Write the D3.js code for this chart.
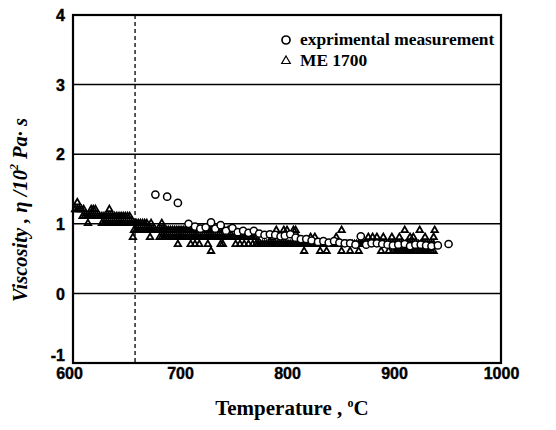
<!DOCTYPE html>
<html>
<head>
<meta charset="utf-8">
<script src="https://cdn.jsdelivr.net/npm/d3@7"></script>
<style>
  html, body { margin: 0; padding: 0; background: #fff; }
  svg { display: block; }
</style>
</head>
<body>
<svg id="chart" width="556" height="430"></svg>
<script>
// ---------------- DATA ----------------
const xTicks = [600, 700, 800, 900, 1000];
const yTicks = [-1, 0, 1, 2, 3, 4];
const gridValues = [0, 1, 2, 3];
const dashedTemp = 658;
const legendLabels = ["exprimental measurement", "ME 1700"];

// experimental measurement: temperatures (°C) and viscosity (10^2 Pa·s)
const expTemp = [677, 688, 698, 708, 714, 719, 724, 729, 733, 738, 743, 749, 754, 759, 764, 769, 774, 779, 784, 789, 794, 798, 803, 808, 813, 818, 823, 829, 834, 839, 844, 849, 854, 859, 864, 869, 874, 879, 884, 889, 894, 899, 904, 910, 915, 920, 925, 930, 935, 941, 951];
const expVisc = [1.42, 1.39, 1.30, 1.00, 0.96, 0.93, 0.95, 1.02, 0.93, 0.98, 0.90, 0.94, 0.88, 0.90, 0.87, 0.90, 0.86, 0.84, 0.85, 0.84, 0.82, 0.83, 0.85, 0.80, 0.78, 0.78, 0.76, 0.74, 0.75, 0.73, 0.75, 0.73, 0.72, 0.72, 0.70, 0.82, 0.70, 0.72, 0.72, 0.71, 0.70, 0.69, 0.70, 0.71, 0.68, 0.70, 0.70, 0.69, 0.68, 0.69, 0.71];

// ME 1700 simulation: temperatures (°C) at each viscosity level (10^2 Pa·s)
const meT13 = [604];
const meT12 = [602, 604, 606, 608, 610, 617, 619, 621, 634];
const meT11 = [609, 611, 613, 615, 617, 619, 621, 623, 625, 627, 629, 631, 633, 635, 637, 639, 641, 643, 645, 647, 649, 651, 653];
const meT10 = [614, 627, 629, 631, 633, 635, 637, 639, 641, 643, 645, 647, 649, 651, 653, 655, 657, 659, 661, 663, 665, 667, 669, 673, 683];
const meT09 = [657, 659, 661, 663, 665, 667, 669, 671, 673, 675, 677, 679, 681, 683, 685, 687, 689, 691, 693, 695, 697, 699, 701, 703, 705, 707, 709, 711, 713, 715, 717, 719, 721, 723, 725, 727, 729, 731, 733, 735, 737, 741, 745, 790, 797, 800, 806, 808, 851, 910, 924, 938];
const meT08 = [656, 672, 681, 683, 685, 687, 689, 691, 693, 695, 697, 699, 701, 703, 705, 707, 709, 711, 713, 715, 717, 719, 721, 723, 725, 727, 729, 731, 733, 735, 737, 739, 741, 743, 745, 747, 749, 751, 753, 755, 757, 759, 761, 763, 765, 767, 769, 771, 786, 796, 810, 822, 826, 846, 876, 880, 884, 890, 898, 905, 915, 918, 929, 937];
const meT07 = [698, 710, 714, 718, 726, 738, 740, 752, 756, 760, 764, 768, 771, 773, 775, 777, 779, 781, 783, 785, 787, 789, 791, 793, 795, 797, 799, 801, 803, 805, 807, 809, 811, 813, 815, 817, 819, 821, 823, 825, 827, 829, 831, 833, 835, 837, 839, 841, 843, 845, 847, 849, 851, 853, 855, 857, 859, 861, 863, 865, 867, 869, 871, 873, 875, 877, 879, 881, 883, 885, 887, 889, 891, 893, 895, 897, 899, 901, 903, 905, 907, 909, 911, 913, 915, 917, 919, 921, 923, 925, 927, 929, 931, 933, 935, 937];
const meT06 = [729, 816, 831, 837, 851, 859, 867, 888, 895, 899, 901, 903, 905, 907, 909, 911, 913, 915, 917, 919, 921, 923, 925, 927, 929, 931, 933, 935, 937];
const meLevels = [1.3, 1.2, 1.1, 1.0, 0.9, 0.8, 0.7, 0.6];
const meTemps = [meT13, meT12, meT11, meT10, meT09, meT08, meT07, meT06];

// ---------------- CHART ----------------
const W = 556, H = 430;
const margin = {top: 15, right: 55, bottom: 67, left: 73};
const svg = d3.select("#chart");

const x = d3.scaleLinear().domain([600, 1000]).range([margin.left, W - margin.right]);
const y = d3.scaleLinear().domain([-1, 4]).range([H - margin.bottom, margin.top]);

// gridlines
svg.append("g").selectAll("line").data(gridValues).join("line")
  .attr("x1", x(600)).attr("x2", x(1000))
  .attr("y1", d => y(d)).attr("y2", d => y(d))
  .attr("stroke", "#000").attr("stroke-width", 1.5);

// dashed vertical line
svg.append("line")
  .attr("x1", x(dashedTemp)).attr("x2", x(dashedTemp))
  .attr("y1", y(4)).attr("y2", y(-1))
  .attr("stroke", "#000").attr("stroke-width", 1.3)
  .attr("stroke-dasharray", "4,3");

// axes
const xAxis = d3.axisBottom(x).tickValues(xTicks).tickSize(0).tickPadding(5).tickFormat(d => String(d));
const yAxis = d3.axisLeft(y).tickValues(yTicks).tickSize(0).tickPadding(8).tickFormat(d => String(d));
const gx = svg.append("g").attr("transform", `translate(0,${H - margin.bottom})`).call(xAxis);
const gy = svg.append("g").attr("transform", `translate(${margin.left},0)`).call(yAxis);
[gx, gy].forEach(g => {
  g.select(".domain").remove();
  g.selectAll("text")
    .attr("font-family", "'Liberation Sans', Arial, sans-serif")
    .attr("font-weight", "bold").attr("font-size", 16).attr("fill", "#000")
    .attr("stroke", "#000").attr("stroke-width", 0.4);
});
gy.selectAll("text").attr("dy", d => d === -1 ? "-0.15em" : "0.36em");
gx.selectAll("text").attr("dx", d => d === 600 ? "-4" : "0");

// ME 1700 triangles
const meData = meLevels.flatMap((v, i) => meTemps[i].map(t => ({t, v})));
const tri = d3.symbol().type(d3.symbolTriangle).size(18);
svg.append("g").selectAll("path").data(meData).join("path")
  .attr("d", tri)
  .attr("transform", d => `translate(${x(d.t)},${y(d.v) - 0.5})`)
  .attr("fill", "none").attr("stroke", "#000").attr("stroke-width", 1.8);

// experimental circles
const expData = expTemp.map((t, i) => ({t, v: expVisc[i]}));
svg.append("g").selectAll("circle").data(expData).join("circle")
  .attr("cx", d => x(d.t)).attr("cy", d => y(d.v)).attr("r", 3.6)
  .attr("fill", "#fff").attr("stroke", "#000").attr("stroke-width", 1.5);

// frame
svg.append("rect")
  .attr("x", x(600)).attr("y", y(4))
  .attr("width", x(1000) - x(600)).attr("height", y(-1) - y(4))
  .attr("fill", "none").attr("stroke", "#000").attr("stroke-width", 2.2);

// legend
const lg = svg.append("g");
lg.append("circle").attr("cx", 286).attr("cy", 40).attr("r", 4)
  .attr("fill", "#fff").attr("stroke", "#000").attr("stroke-width", 1.7);
lg.append("path").attr("d", d3.symbol().type(d3.symbolTriangle).size(32))
  .attr("transform", "translate(286,61)")
  .attr("fill", "none").attr("stroke", "#000").attr("stroke-width", 1.2);
lg.selectAll("text").data(legendLabels).join("text")
  .attr("x", 300).attr("y", (d, i) => 45 + i * 21)
  .attr("font-family", "'Liberation Serif', 'Times New Roman', serif")
  .attr("font-weight", "bold").attr("font-size", 17.4).attr("fill", "#000")
  .text(d => d);

// x title
const xt = svg.append("text")
  .attr("x", 292).attr("y", 415).attr("text-anchor", "middle")
  .attr("font-family", "'Liberation Serif', 'Times New Roman', serif")
  .attr("font-weight", "bold").attr("font-size", 21).attr("fill", "#000");
xt.append("tspan").text("Temperature , ");
xt.append("tspan").attr("font-size", 12).attr("dy", -8).text("o");
xt.append("tspan").attr("dy", 8).text("C");

// y title
const yt = svg.append("text")
  .attr("transform", "translate(27,210) rotate(-90)").attr("text-anchor", "middle")
  .attr("font-family", "'Liberation Serif', 'Times New Roman', serif")
  .attr("font-weight", "bold").attr("font-style", "italic")
  .attr("font-size", 20.5).attr("fill", "#000");
yt.append("tspan").text("Viscosity , η /10");
yt.append("tspan").attr("font-size", 12).attr("dy", -9).text("2");
yt.append("tspan").attr("dy", 9).text(" Pa· s");
</script>
</body>
</html>
